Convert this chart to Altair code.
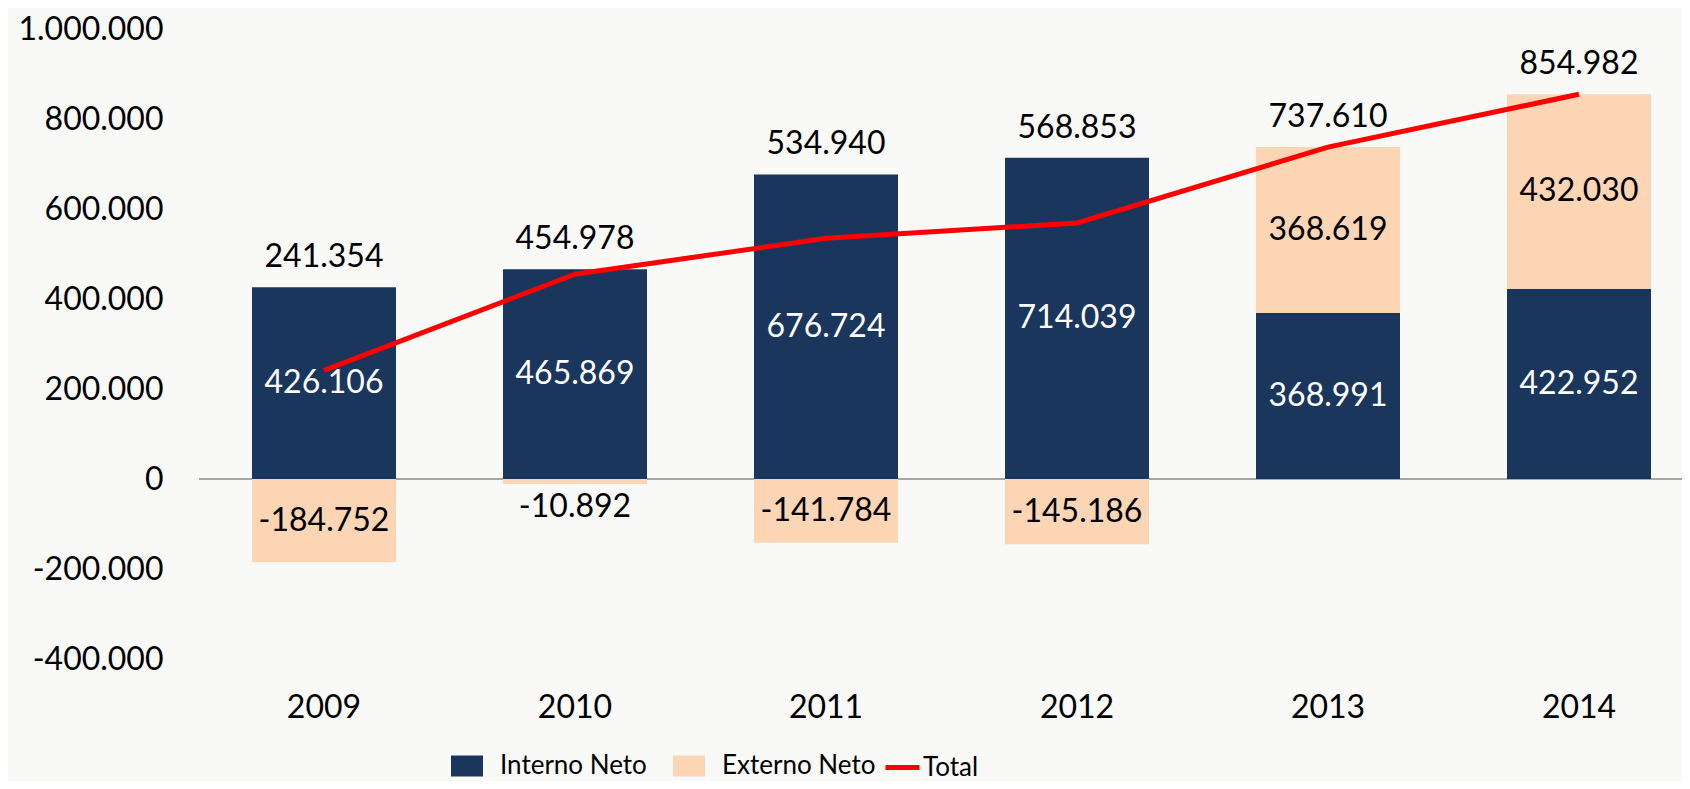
import altair as alt
import pandas as pd

years = ["2009", "2010", "2011", "2012", "2013", "2014"]
interno = [426106, 465869, 676724, 714039, 368991, 422952]
externo = [-184752, -10892, -141784, -145186, 368619, 432030]
total = [241354, 454978, 534940, 568853, 737610, 854982]
bar_series = ["Interno Neto", "Externo Neto"]
line_series = ["Total"]
y_ticks = [-400000, -200000, 0, 200000, 400000, 600000, 800000, 1000000]

NAVY = "#1b365d"
PEACH = "#fcd5b5"
RED = "#ff0000"
FONT = "Lato"
FS = 32
LEG_FONT = "Lato"
LEG_FS = 26


def fmt(v):
    return f"{v:,}".replace(",", ".")


bar_rows = []
for i, yr in enumerate(years):
    bar_rows.append(dict(year=yr, series="Interno Neto", value=interno[i], ord=0))
    bar_rows.append(dict(year=yr, series="Externo Neto", value=externo[i], ord=1))
bars_df = pd.DataFrame(bar_rows)

line_df = pd.DataFrame({"year": years, "value": total, "series": "Total"})

int_lab = pd.DataFrame({
    "year": years,
    "pos": [v / 2 for v in interno],
    "label": [fmt(v) for v in interno],
})
ext_lab = pd.DataFrame({
    "year": years,
    "pos": [(a + b / 2) if b > 0 else min(b / 2, -62000) for a, b in zip(interno, externo)],
    "label": [fmt(v) for v in externo],
})
tot_lab = pd.DataFrame({
    "year": years,
    "pos": [a + max(b, 0) for a, b in zip(interno, externo)],
    "label": [fmt(v) for v in total],
})

y_scale = alt.Scale(domain=[-400000, 1000000], nice=False, zero=False)
y_axis = alt.Axis(
    title=None, values=y_ticks, grid=False, domain=False, ticks=False,
    labelPadding=36, labelFont=FONT, labelFontSize=FS, labelColor="black",
    labelExpr="replace(replace(format(datum.value, ','), regexp(',', 'g'), '.'), '\u2212', '-')",
)
x_enc = alt.X(
    "year:N",
    sort=years,
    scale=alt.Scale(paddingInner=0.4263, paddingOuter=0.1673, align=0.631),
    axis=alt.Axis(title=None, labelAngle=0, domain=False, ticks=False,
                  labelPadding=33, labelFont=FONT, labelFontSize=FS,
                  labelColor="black"),
)

LEG_Y = 721

fill_enc = alt.Fill(
    "series:N",
    scale=alt.Scale(domain=bar_series, range=[NAVY, PEACH]),
    legend=alt.Legend(
        title=None, orient="none", legendX=252, legendY=LEG_Y,
        direction="horizontal",
        labelFont=LEG_FONT, labelFontSize=LEG_FS, labelColor="black",
        labelOffset=17, columnPadding=26, labelLimit=400,
        symbolType="M-1,-0.656H1V0.656H-1Z", symbolSize=1024,
        symbolStrokeWidth=0, symbolOpacity=1,
    ),
)
stroke_enc = alt.Stroke(
    "series:N",
    scale=alt.Scale(domain=line_series, range=[RED]),
    legend=alt.Legend(
        title=None, orient="none", legendX=684, legendY=LEG_Y - 2,
        direction="horizontal",
        labelFont=LEG_FONT, labelFontSize=LEG_FS, labelColor="black",
        labelOffset=1, labelLimit=400, symbolType="stroke", symbolSize=1156,
        symbolStrokeWidth=5, symbolOpacity=1,
    ),
)

rule = alt.Chart(pd.DataFrame({"z": [0]})).mark_rule(
    color="#a6a6a6", strokeWidth=2
).encode(y=alt.Y("z:Q", scale=y_scale, axis=y_axis))

bars = alt.Chart(bars_df).mark_bar().encode(
    x=x_enc,
    y=alt.Y("value:Q", scale=y_scale, axis=y_axis, stack="zero"),
    fill=fill_enc,
    order=alt.Order("ord:Q"),
)

line = alt.Chart(line_df).mark_line(strokeWidth=5).encode(
    x=x_enc,
    y=alt.Y("value:Q", scale=y_scale, axis=y_axis),
    stroke=stroke_enc,
)


def text_layer(df, color, dy=0):
    return alt.Chart(df).mark_text(
        font=FONT, fontSize=FS, color=color, baseline="middle", dy=dy
    ).encode(
        x=x_enc,
        y=alt.Y("pos:Q", scale=y_scale, axis=y_axis),
        text="label:N",
    )


chart = alt.layer(
    rule, bars, line,
    text_layer(int_lab, "white"),
    text_layer(ext_lab, "black"),
    text_layer(tot_lab, "black", dy=-30),
).resolve_scale(
    fill="independent", stroke="independent"
).properties(
    width=1483, height=630,
    autosize=alt.AutoSizeParams(type="none"),
    padding={"left": 191, "top": 21, "right": 0, "bottom": 122},
    background="#f9f9f8",
).configure_view(strokeWidth=0)

chart.save("out.html", embed_options={"renderer": "svg", "actions": False})
